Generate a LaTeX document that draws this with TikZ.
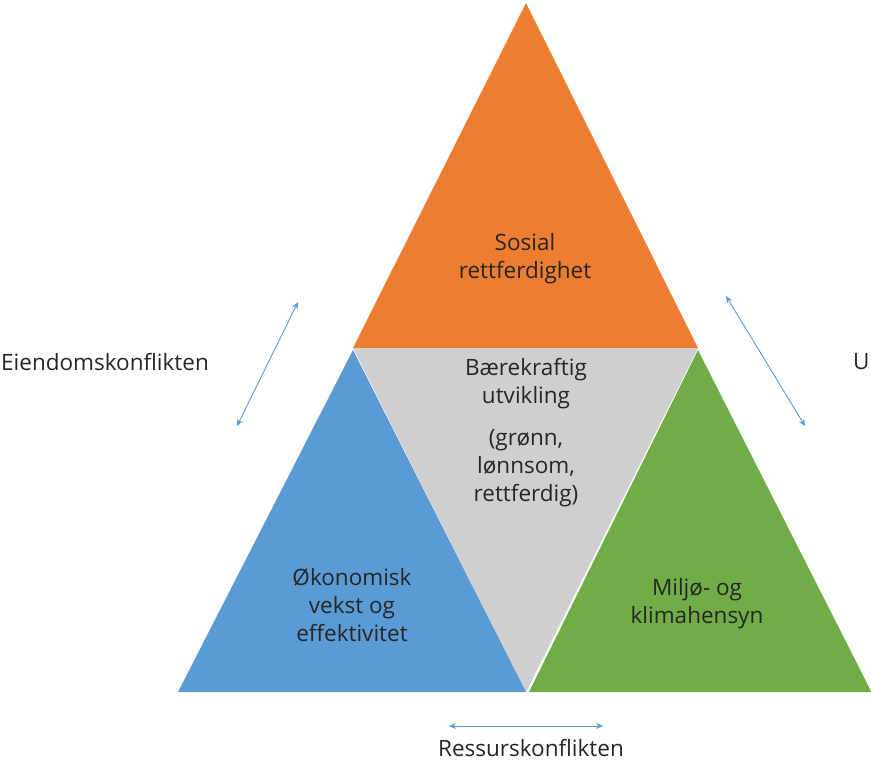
\documentclass[tikz,border=0pt]{standalone}
\usepackage{fontspec}
\setmainfont{Open Sans}
\usetikzlibrary{arrows.meta}
\definecolor{orangeT}{HTML}{ED7D31}
\definecolor{greyT}{HTML}{D0CECE}
\definecolor{blueT}{HTML}{5B9BD5}
\definecolor{greenT}{HTML}{70AD47}
\definecolor{txt}{HTML}{262626}
\tikzset{
  lbl/.style={text=txt, font=\fontsize{22.5}{28}\selectfont, align=center, inner sep=0pt},
  conflict/.style={draw=blueT, line width=0.9pt, {Stealth[length=7pt,width=6pt]}-{Stealth[length=7pt,width=6pt]}}
}
\begin{document}
\begin{tikzpicture}[x=1pt,y=-1pt]
\useasboundingbox (0,0) rectangle (871,764);
% triangles
\fill[orangeT] (526,3) -- (698,348) -- (353,348) -- cycle;
\fill[greyT] (353,348) -- (698,348) -- (526,692) -- cycle;
\fill[blueT] (353,350) -- (526,692) -- (178,692) -- cycle;
\fill[greenT] (698,350) -- (871.5,692) -- (529,692) -- cycle;
% labels
\node[lbl] (sosial) at (525,259) {Sosial\\rettferdighet};
\node[lbl] (baere) at (526,384) {Bærekraftig\\utvikling};
\node[lbl] (gronn) at (526,468) {(grønn,\\lønnsom,\\rettferdig)};
\node[lbl] (okon) at (352,605) {Økonomisk\\vekst og\\effektivitet};
\node[lbl] (miljo) at (697,604) {Miljø- og\\klimahensyn};
\node[lbl, anchor=west] (eiendom) at (1,362) {Eiendomskonflikten};
\node[lbl, anchor=west] (utv) at (853,362) {U};
\node[lbl] (ressurs) at (531,748) {Ressurskonflikten};
% arrows
\coordinate (l1) at (237,426);
\coordinate (l2) at (298,302);
\coordinate (r1) at (726,296);
\coordinate (r2) at (805,426);
\coordinate (b1) at (449,726);
\coordinate (b2) at (603,726);
\draw[conflict] (l1) -- (l2);
\draw[conflict] (r1) -- (r2);
\draw[conflict] (b1) -- (b2);
\end{tikzpicture}
\end{document}
